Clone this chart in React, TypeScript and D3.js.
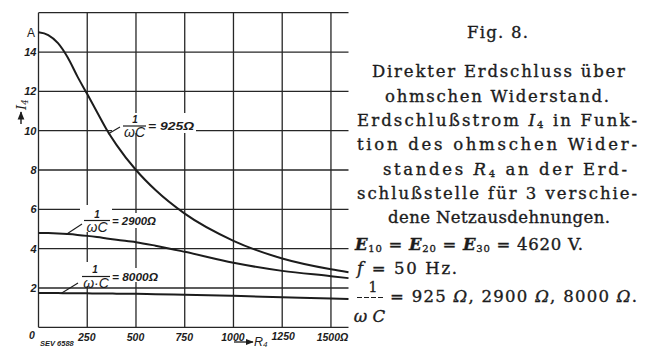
import React from "react";
import * as d3 from "d3";

// Resistance R4 (Ω) and earth-fault current I4 (A) for the three network sizes
const resistance = [0, 50, 100, 150, 200, 250, 300, 350, 400, 500, 600, 750, 1000, 1250, 1500, 1590];
const current925 = [15.0, 14.86, 14.45, 13.72, 12.75, 11.86, 10.95, 10.05, 9.28, 8.0, 6.98, 5.78, 4.4, 3.5, 2.95, 2.8];
const current2900 = [4.8, 4.79, 4.77, 4.74, 4.7, 4.65, 4.59, 4.52, 4.45, 4.33, 4.15, 3.84, 3.28, 2.87, 2.6, 2.5];
const current8000 = [1.74, 1.74, 1.74, 1.73, 1.73, 1.73, 1.72, 1.72, 1.71, 1.7, 1.68, 1.66, 1.6, 1.53, 1.47, 1.44];

const xTicks = [0, 250, 500, 750, 1000, 1250, 1500];
const xTickLabels = ["0", "250", "500", "750", "1000", "1250", "1500Ω"];
const yTicks = [2, 4, 6, 8, 10, 12, 14];
const yGrid = [0, 2, 4, 6, 8, 10, 12, 14, 16];

const INK = "#1c1c1c";
const SANS = "'Liberation Sans', Arial, sans-serif";
const SERIF = "'DejaVu Serif', serif";
const FS = 16.5;

export default function App() {
  const x = d3.scaleLinear().domain([0, 1590]).range([38.5, 348.5]);
  const y = d3.scaleLinear().domain([0, 16]).range([327.3, 12.7]);

  const line = d3
    .line<[number, number]>()
    .x((d) => x(d[0]))
    .y((d) => y(d[1]))
    .curve(d3.curveMonotoneX);

  const series = [current925, current2900, current8000].map((vals) =>
    line(resistance.map((r, i) => [r, vals[i]] as [number, number]))
  );

  const serifLine = (
    baseline: number,
    x0: number,
    x1: number,
    content: React.ReactNode,
    key: string
  ) => (
    <text
      key={key}
      x={x0}
      y={baseline}
      textLength={x1 - x0}
      lengthAdjust="spacing"
      fontFamily={SERIF}
      fontSize={FS}
      fill={INK}
      stroke={INK}
      strokeWidth={0.35}
    >
      {content}
    </text>
  );

  return (
    <svg
      width={645}
      height={349}
      style={{ position: "absolute", left: 0, top: 0 }}
      xmlns="http://www.w3.org/2000/svg"
    >
      <defs>
        <marker id="arr" viewBox="0 0 10 10" refX="9" refY="5" markerWidth="6" markerHeight="6" orient="auto">
          <path d="M0,1 L10,5 L0,9 z" fill={INK} />
        </marker>
      </defs>
      <rect x={0} y={0} width={645} height={349} fill="#fff" />

      {/* grid */}
      <g stroke="#262626" strokeWidth={1.3}>
        {yGrid.map((v) => (
          <line key={"h" + v} x1={x(0)} x2={x(1590)} y1={y(v)} y2={y(v)} />
        ))}
        {xTicks.map((v) => (
          <line key={"v" + v} x1={x(v)} x2={x(v)} y1={y(0)} y2={y(16)} />
        ))}
      </g>

      {/* label backgrounds */}
      <g fill="#fff">
        <rect x={112} y={113} width={84} height={20} />
        <rect x={80} y={205} width={32} height={27} />
        <rect x={112} y={213} width={46} height={15} />
        <rect x={80} y={262} width={32} height={24} />
        <rect x={112} y={268} width={48} height={14} />
      </g>

      {/* curves */}
      <g fill="none" stroke={INK} strokeWidth={2}>
        {series.map((d, i) => (
          <path key={i} d={d ?? ""} />
        ))}
      </g>

      {/* curve labels */}
      <g fill={INK} fontFamily={SANS} fontStyle="italic">
        {/* 925 */}
        <line x1={108} y1={134} x2={120} y2={127} stroke={INK} strokeWidth={1.1} />
        <text x={135} y={123} fontSize={10} textAnchor="middle" fontWeight="bold">1</text>
        <line x1={123} x2={146} y1={126} y2={126} stroke={INK} strokeWidth={1.2} />
        <text x={134.5} y={136.5} fontSize={14} textAnchor="middle">ωC</text>
        <text x={148} y={130} fontSize={11.5} fontWeight="bold" textLength={46} lengthAdjust="spacingAndGlyphs">= 925Ω</text>

        {/* 2900 */}
        <line x1={66} y1={234.5} x2={82} y2={224} stroke={INK} strokeWidth={1.1} />
        <text x={97} y={218} fontSize={10} textAnchor="middle" fontWeight="bold">1</text>
        <line x1={84} x2={110} y1={220.5} y2={220.5} stroke={INK} strokeWidth={1.2} />
        <text x={97} y={232} fontSize={14} textAnchor="middle">ωC</text>
        <text x={112} y={225} fontSize={11.5} fontWeight="bold" textLength={44} lengthAdjust="spacingAndGlyphs">= 2900Ω</text>

        {/* 8000 */}
        <line x1={61} y1={293.5} x2={78} y2={283} stroke={INK} strokeWidth={1.1} />
        <text x={95} y={273} fontSize={10} textAnchor="middle" fontWeight="bold">1</text>
        <line x1={82} x2={110} y1={276.5} y2={276.5} stroke={INK} strokeWidth={1.2} />
        <text x={96} y={288} fontSize={14} textAnchor="middle">ω·C</text>
        <text x={112} y={280.5} fontSize={11.5} fontWeight="bold" textLength={46} lengthAdjust="spacingAndGlyphs">= 8000Ω</text>
      </g>

      {/* y tick labels */}
      <g fill={INK} fontFamily={SANS} fontStyle="italic" fontWeight="bold" fontSize={11}>
        {yTicks.map((v) => (
          <text key={v} x={36.5} y={y(v)} dy="0.36em" textAnchor="end">
            {v}
          </text>
        ))}
      </g>
      <text x={31} y={36.5} fontFamily={SANS} fontSize={12} fill={INK} textAnchor="middle">A</text>

      {/* y axis title */}
      <line x1={21} y1={124} x2={21} y2={112} stroke={INK} strokeWidth={1.4} markerEnd="url(#arr)" />
      <g transform="translate(25.5,110) rotate(-90)">
        <text x={0} y={0} fontFamily={SERIF} fontStyle="italic" fontSize={13} fill={INK}>
          I<tspan fontSize={8.5} dy={2.5}>4</tspan>
        </text>
      </g>

      {/* x tick labels */}
      <g fill={INK} fontFamily={SANS} fontStyle="italic" fontWeight="bold" fontSize={10.5}>
        {xTicks.map((v, i) => (
          <text
            key={v}
            x={v === 0 ? x(v) - 6.5 : x(v) + (v === 1500 ? 1.5 : v === 1250 ? 1 : -0.5)}
            y={v === 0 ? 339 : v === 1250 ? 339.5 : 340.5}
            textAnchor="middle"
          >
            {xTickLabels[i]}
          </text>
        ))}
      </g>

      {/* x axis title */}
      <line x1={234} y1={342} x2={253} y2={342} stroke={INK} strokeWidth={1.3} markerEnd="url(#arr)" />
      <text x={254} y={345.5} fontFamily={SANS} fontStyle="italic" fontSize={12.5} fill={INK}>
        R<tspan fontSize={8} dy={1.5}>4</tspan>
      </text>

      <text x={40} y={346} fontFamily={SANS} fontStyle="italic" fontWeight="bold" fontSize={7.5} fill={INK}>
        SEV 6588
      </text>

      {/* caption */}
      <text
        x={467}
        y={38}
        textLength={61}
        lengthAdjust="spacing"
        fontFamily={SERIF}
        fontSize={FS}
        fill={INK}
        stroke={INK}
        strokeWidth={0.35}
      >
        Fig. 8.
      </text>
      {serifLine(77, 372, 625, "Direkter Erdschluss über", "l1")}
      {serifLine(101.5, 385, 609, "ohmschen Widerstand.", "l2")}
      {serifLine(
        125.5,
        357,
        637,
        <>
          Erdschlußstrom <tspan fontStyle="italic">I</tspan>
          <tspan fontSize={10} dy={2}>4</tspan>
          <tspan dy={-2}> in Funk-</tspan>
        </>,
        "l3"
      )}
      {serifLine(150, 357, 637, "tion des ohmschen Wider-", "l4")}
      {serifLine(
        174.5,
        383,
        627,
        <>
          standes <tspan fontStyle="italic">R</tspan>
          <tspan fontSize={10} dy={2}>4</tspan>
          <tspan dy={-2}> an der Erd-</tspan>
        </>,
        "l5"
      )}
      {serifLine(199, 357, 637, "schlußstelle für 3 verschie-", "l6")}
      {serifLine(223, 388, 610, "dene Netzausdehnungen.", "l7")}
      {serifLine(
        250,
        355,
        583,
        <>
          <tspan fontStyle="italic" fontWeight="bold">E</tspan>
          <tspan fontSize={10} dy={2}>10</tspan>
          <tspan dy={-2}> = </tspan>
          <tspan fontStyle="italic" fontWeight="bold">E</tspan>
          <tspan fontSize={10} dy={2}>20</tspan>
          <tspan dy={-2}> = </tspan>
          <tspan fontStyle="italic" fontWeight="bold">E</tspan>
          <tspan fontSize={10} dy={2}>30</tspan>
          <tspan dy={-2}> = 4620  V.</tspan>
        </>,
        "l8"
      )}
      {serifLine(
        273.5,
        357,
        457,
        <>
          <tspan fontStyle="italic">f</tspan> = 50  Hz.
        </>,
        "l9"
      )}
      <text x={373} y={292} fontFamily={SERIF} fontSize={14} fill={INK} stroke={INK} strokeWidth={0.3} textAnchor="middle">1</text>
      <line x1={357} x2={384} y1={297.5} y2={297.5} stroke={INK} strokeWidth={1.1} strokeDasharray="5 2" />
      <text x={369.5} y={321.5} fontFamily={SERIF} fontStyle="italic" fontSize={FS} fill={INK} stroke={INK} strokeWidth={0.35} textAnchor="middle">
        ω C
      </text>
      {serifLine(
        302,
        390,
        637,
        <>
          = 925 <tspan fontStyle="italic">Ω</tspan>, 2900 <tspan fontStyle="italic">Ω</tspan>, 8000{" "}
          <tspan fontStyle="italic">Ω</tspan>.
        </>,
        "l10"
      )}
    </svg>
  );
}
